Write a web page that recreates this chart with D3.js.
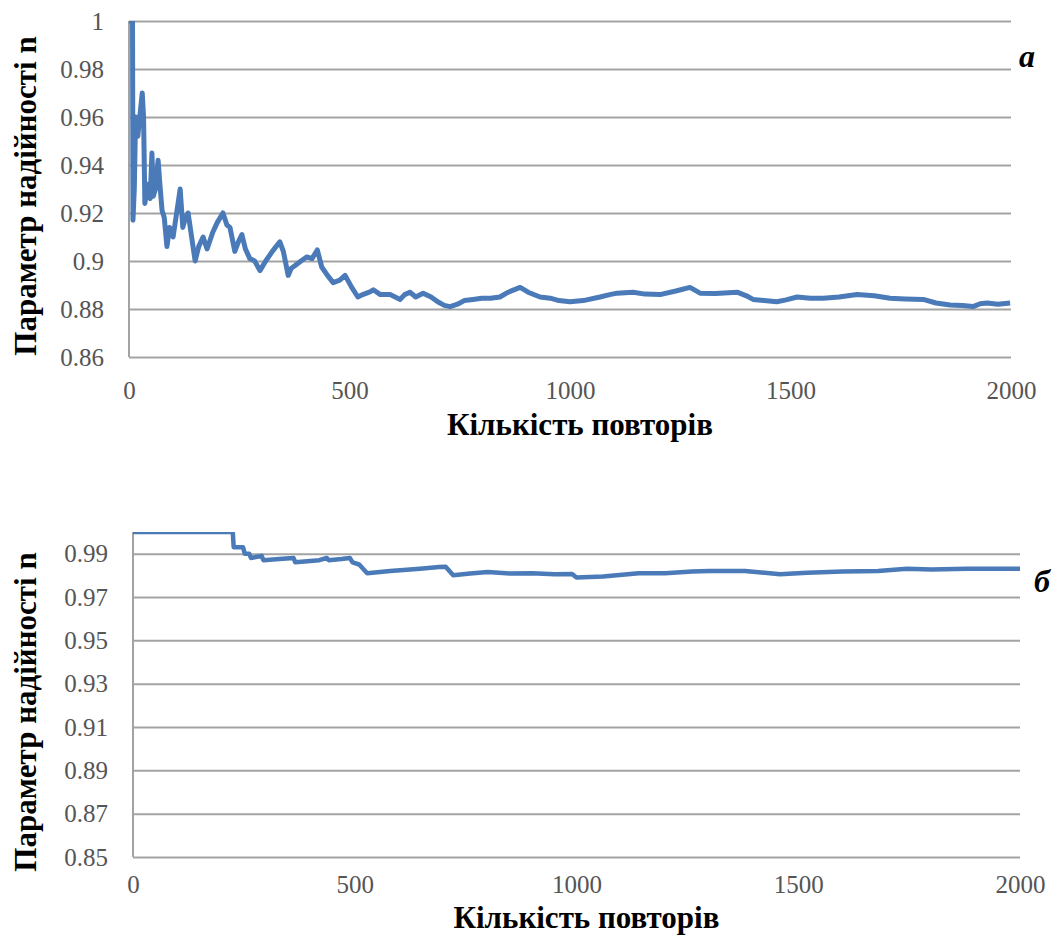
<!DOCTYPE html>
<html>
<head>
<meta charset="utf-8">
<script src="https://cdn.jsdelivr.net/npm/d3@7"></script>
<style>
  body { margin: 0; background: #fff; }
  text { font-family: "Liberation Serif", "DejaVu Serif", "Noto Serif", serif; }
</style>
</head>
<body>
<script>
// DATA

var xTicks = [0, 500, 1000, 1500, 2000];

var yTicksA = [0.86, 0.88, 0.9, 0.92, 0.94, 0.96, 0.98, 1];
var yTicksB = [0.85, 0.87, 0.89, 0.91, 0.93, 0.95, 0.97, 0.99];

var repsA = [0, 8, 9, 12, 15, 20, 30, 33, 36, 42, 48, 52, 55, 60, 66, 70, 75, 80, 86, 92,
  100, 108, 116, 122, 128, 134, 142, 150, 158, 168, 177, 190, 200, 213, 222, 229, 240, 248, 256, 264,
  274, 285, 297, 310, 325, 342, 350, 361, 368, 376, 390, 403, 415, 427, 437, 450, 463, 478, 490, 505,
  519, 530, 545, 554, 570, 592, 615, 625, 637, 650, 667, 685, 700, 715, 728, 745, 760, 780, 800, 820,
  841, 860, 887, 905, 932, 955, 975, 1000, 1030, 1068, 1090, 1107, 1143, 1170, 1204, 1240, 1272, 1295, 1330, 1379,
  1400, 1415, 1440, 1469, 1490, 1515, 1545, 1574, 1610, 1651, 1690, 1726, 1760, 1801, 1830, 1862, 1890, 1914, 1930, 1946,
  1970, 1998];
var valsA = [1, 1, 0.917, 0.93, 0.96, 0.952, 0.97, 0.96, 0.924, 0.932, 0.926, 0.945, 0.927, 0.93, 0.942, 0.932, 0.921, 0.918, 0.906, 0.914,
  0.91, 0.92, 0.93, 0.914, 0.918, 0.92, 0.91, 0.9, 0.906, 0.91, 0.905, 0.912, 0.916, 0.92, 0.915, 0.914, 0.904, 0.908, 0.911, 0.905,
  0.901, 0.9, 0.896, 0.9, 0.904, 0.908, 0.904, 0.894, 0.897, 0.898, 0.9, 0.9017, 0.901, 0.9046, 0.8975, 0.894, 0.891, 0.892, 0.894, 0.889,
  0.885, 0.886, 0.887, 0.888, 0.886, 0.886, 0.884, 0.886, 0.887, 0.885, 0.8866, 0.885, 0.883, 0.8815, 0.881, 0.882, 0.8835, 0.884, 0.8845, 0.8845,
  0.885, 0.887, 0.889, 0.887, 0.885, 0.8845, 0.8835, 0.883, 0.8835, 0.885, 0.886, 0.8866, 0.887, 0.8862, 0.886, 0.8875, 0.889, 0.8866, 0.8865, 0.887,
  0.8855, 0.884, 0.8835, 0.883, 0.8838, 0.885, 0.8845, 0.8845, 0.885, 0.886, 0.8855, 0.8845, 0.8842, 0.884, 0.8825, 0.8817, 0.8815, 0.881, 0.8822, 0.8825,
  0.882, 0.8825];

var repsB = [0, 225, 227, 248, 252, 262, 266, 290, 294, 330, 362, 366, 420, 437, 441, 470, 489, 495, 510, 528,
  580, 647, 690, 705, 722, 760, 800, 850, 900, 950, 990, 1000, 1060, 1140, 1200, 1260, 1300, 1380, 1459, 1520,
  1600, 1680, 1745, 1800, 1880, 2000];
var valsB = [1, 1, 0.993, 0.993, 0.99, 0.99, 0.988, 0.989, 0.987, 0.9875, 0.988, 0.986, 0.987, 0.988, 0.987, 0.9875, 0.988, 0.986, 0.985, 0.981,
  0.982, 0.983, 0.9838, 0.984, 0.98, 0.9808, 0.9815, 0.9808, 0.981, 0.9805, 0.9806, 0.979, 0.9795, 0.981, 0.981, 0.9818, 0.982, 0.982, 0.9805, 0.9812,
  0.9818, 0.982, 0.983, 0.9827, 0.983, 0.983];

var xTitle = "Кількість повторів";
var yTitle = "Параметр надійності n";

var serif = "'Liberation Serif', 'DejaVu Serif', 'Noto Serif', serif";

// SVG WRAPPER

var svg = d3.select("body")
  .append("svg")
  .attr("width", 1056)
  .attr("height", 940);

// DRAW ONE PANEL

function drawPanel(p) {
  var width = p.right - p.left;
  var height = p.bottom - p.top;

  var xScale = d3.scaleLinear().domain([0, 2000]).range([0, width]);
  var yScale = d3.scaleLinear().domain(p.yDomain).range([height, 0]);

  var g = svg.append("g").attr("transform", `translate(${p.left}, ${p.top})`);

  // gridlines + y labels
  var yAxis = d3.axisLeft(yScale)
    .tickValues(p.yTicks)
    .tickSize(-width)
    .tickPadding(25)
    .tickFormat(d => String(+d.toFixed(2)));

  var yg = g.append("g").call(yAxis).attr("font-family", serif);
  yg.select(".domain").remove();
  yg.selectAll("line").attr("stroke", "#a3a3a3").attr("stroke-width", 2);
  yg.selectAll("text")
    .attr("fill", "#555")
    .attr("font-size", 25);

  // left axis line
  g.append("line")
    .attr("x1", 0).attr("x2", 0)
    .attr("y1", 0).attr("y2", height)
    .attr("stroke", "#a3a3a3")
    .attr("stroke-width", 2);

  // x labels
  var xAxis = d3.axisBottom(xScale)
    .tickValues(xTicks)
    .tickSize(0)
    .tickPadding(p.xPad)
    .tickFormat(d3.format("d"));

  var xg = g.append("g").attr("transform", `translate(0, ${height})`).call(xAxis)
    .attr("font-family", serif);
  xg.select(".domain").remove();
  xg.selectAll("text")
    .attr("fill", "#555")
    .attr("font-size", 25);

  // clip to plot area
  g.append("clipPath").attr("id", p.id)
    .append("rect")
    .attr("width", width)
    .attr("height", height);

  var line = d3.line()
    .x((d, i) => xScale(p.reps[i]))
    .y(d => yScale(d));

  g.append("path")
    .datum(p.vals)
    .attr("clip-path", `url(#${p.id})`)
    .attr("fill", "none")
    .attr("stroke", "#4a7ab8")
    .attr("stroke-width", p.lineWidth)
    .attr("stroke-linejoin", "round")
    .attr("d", line);

  // titles
  svg.append("text")
    .attr("x", (p.left + p.right) / 2 + 10)
    .attr("y", p.xTitleY)
    .attr("text-anchor", "middle")
    .attr("font-size", 31)
    .attr("font-weight", "bold")
    .text(xTitle);

  svg.append("text")
    .attr("transform", `translate(36, ${p.yTitleMid}) rotate(-90)`)
    .attr("text-anchor", "middle")
    .attr("font-size", 31)
    .attr("font-weight", "bold")
    .text(yTitle);

  svg.append("text")
    .attr("x", p.tagX)
    .attr("y", p.tagY)
    .attr("font-size", 32)
    .attr("font-weight", "bold")
    .attr("font-style", "italic")
    .text(p.tag);
}

drawPanel({
  id: "clipA", left: 129, right: 1011, top: 21, bottom: 357,
  yDomain: [0.86, 1], yTicks: yTicksA, reps: repsA, vals: valsA,
  lineWidth: 5, xPad: 24, xTitleY: 435, yTitleMid: 196, tag: "a", tagX: 1019, tagY: 67
});

drawPanel({
  id: "clipB", left: 133, right: 1020, top: 532, bottom: 857,
  yDomain: [0.85, 1], yTicks: yTicksB, reps: repsB, vals: valsB,
  lineWidth: 4.5, xPad: 18, xTitleY: 928, yTitleMid: 712, tag: "б", tagX: 1034, tagY: 592
});
</script>
</body>
</html>
